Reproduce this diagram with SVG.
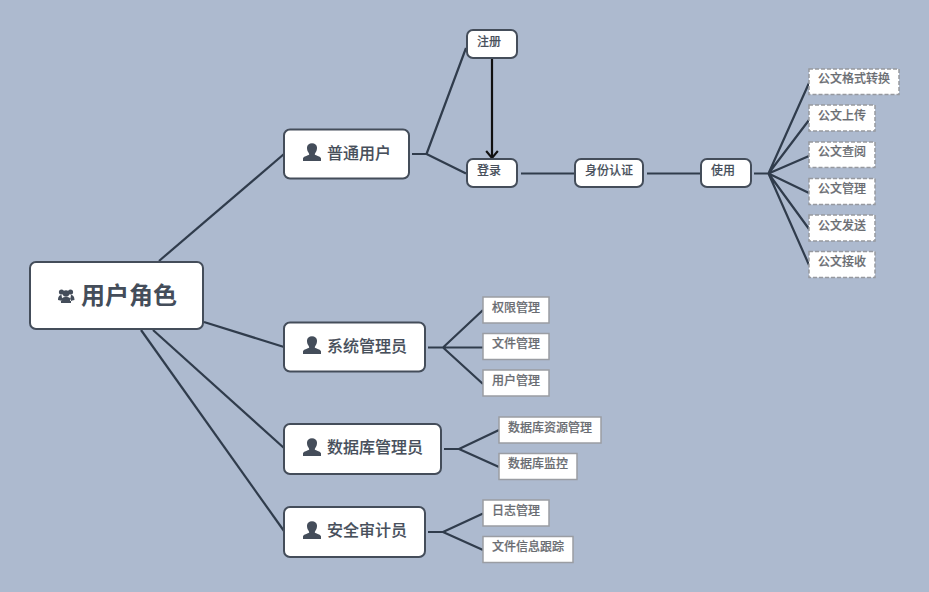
<svg xmlns="http://www.w3.org/2000/svg" width="929" height="592" viewBox="0 0 929 592">
<style>
text{font-family:"Noto Sans CJK SC","Microsoft YaHei",sans-serif;}
.c{fill:none;stroke:#303c4c;stroke-width:2.200;stroke-linecap:butt}
.b{fill:#fff;stroke:#444d5a;stroke-width:2}
.l{fill:#fff;stroke:#9a9da3;stroke-width:1.500}
.d{fill:#fff;stroke:#96999f;stroke-width:1.500;stroke-dasharray:4 2}
.t0{font-size:24px;font-weight:700;fill:#444d5a}
.t1{font-size:16px;font-weight:500;fill:#474f5b;stroke:#474f5b;stroke-width:.12}
.t2{font-size:12px;font-weight:500;fill:#474f5b;stroke:#474f5b;stroke-width:.15}
.t3{font-size:12px;font-weight:500;fill:#6a6d72;stroke:#6a6d72;stroke-width:.18}
.i{fill:#444d5a}
</style>
<defs>
<path id="u" d="M-9 9 L-9 6.500 C-9 4.300 -3.800 3.800 -2.800 2.500 C-2.700 1.800 -3.200 1.200 -3.900 0 C-4.800 -1.500 -5 -3 -5 -4.500 C-5 -7.200 -2.800 -8.800 0 -8.800 C2.800 -8.800 5 -7.200 5 -4.500 C5 -3 4.800 -1.500 3.900 0 C3.200 1.200 2.700 1.800 2.800 2.500 C3.800 3.800 9 4.300 9 6.500 L9 9 Z"/>
<marker id="ah" markerUnits="userSpaceOnUse" markerWidth="14" markerHeight="12" refX="6" refY="9" orient="0" viewBox="0 0 12 10"><path d="M1 3 L6 9 L11 3" fill="none" stroke="#111" stroke-width="1.800"/></marker>
</defs>
<rect width="929" height="592" fill="#adbacf"/>
<g id="connectors">
<path class="c" d="M159 261 L284 154"/>
<path class="c" d="M204 322 L284 347"/>
<path class="c" d="M153 330 L284 448"/>
<path class="c" d="M141 330 L284 531"/>
<path class="c" d="M412 154 L426.500 154 M426.500 154 L466 48 M426.500 154 L466 173.500"/>
<path class="c" d="M492 59 L492 158" style="stroke:#111" marker-end="url(#ah)"/>
<path class="c" d="M521 173.500 L574 173.500 M647 173.500 L700 173.500"/>
<path class="c" d="M754 173.500 L768.500 173.500 M768.500 173.500 L809 83 M768.500 173.500 L809 120 M768.500 173.500 L809 156 M768.500 173.500 L809 193 M768.500 173.500 L809 229 M768.500 173.500 L809 265"/>
<path class="c" d="M428 347.500 L443 347.500 M443 347.500 L483 310 M443 347.500 L483 347.500 M443 347.500 L483 384"/>
<path class="c" d="M444 449 L459 449 M459 449 L499 430 M459 449 L499 467"/>
<path class="c" d="M428 532 L443 532 M443 532 L483 513.500 M443 532 L483 550"/>
</g>
<g id="root"><rect class="b" x="30" y="262" width="173" height="67" rx="6"/>
<g class="i"><circle cx="61.500" cy="292" r="2.600"/><circle cx="70.500" cy="292" r="2.600"/><circle cx="66" cy="293.500" r="3.200"/><path d="M58 300 C58 296 60 295 61.500 295 L62.500 301 Z M74.500 300 C74.500 296 72.500 295 71 295 L70 301 Z M61 303 C60.500 298 63 297 66 297 C69.500 297 71.500 298 71 303 Z"/></g>
<text class="t0" x="81" y="304">用户角色</text></g>
<g id="n-putong"><rect class="b" x="284" y="129.500" width="125" height="49" rx="6"/><use class="i" href="#u" x="312" y="152"/><text class="t1" x="327" y="159">普通用户</text></g>
<g id="n-xitong"><rect class="b" x="284" y="322.500" width="141" height="49" rx="6"/><use class="i" href="#u" x="312" y="345"/><text class="t1" x="327" y="352">系统管理员</text></g>
<g id="n-shujuku"><rect class="b" x="284" y="424" width="157" height="50" rx="6"/><use class="i" href="#u" x="312" y="447"/><text class="t1" x="327" y="453">数据库管理员</text></g>
<g id="n-anquan"><rect class="b" x="284" y="507" width="141" height="50" rx="6"/><use class="i" href="#u" x="312" y="530"/><text class="t1" x="327" y="536">安全审计员</text></g>
<g id="n-zhuce"><rect class="b" x="467" y="30" width="50" height="28" rx="6"/><text class="t2" x="477" y="46">注册</text></g>
<g id="n-denglu"><rect class="b" x="467" y="159" width="50" height="28" rx="6"/><text class="t2" x="477" y="175">登录</text></g>
<g id="n-renzheng"><rect class="b" x="575" y="159" width="68" height="28" rx="6"/><text class="t2" x="585" y="175">身份认证</text></g>
<g id="n-shiyong"><rect class="b" x="701" y="159" width="50" height="28" rx="6"/><text class="t2" x="711" y="175">使用</text></g>
<g id="n-gs"><rect class="d" x="809" y="69" width="90" height="25.500"/><text class="t3" x="818" y="83">公文格式转换</text></g>
<g id="n-sc"><rect class="d" x="809" y="105" width="66" height="26"/><text class="t3" x="818" y="120">公文上传</text></g>
<g id="n-cy"><rect class="d" x="809" y="142" width="66" height="25.500"/><text class="t3" x="818" y="156">公文查阅</text></g>
<g id="n-gl"><rect class="d" x="809" y="178.500" width="66" height="26"/><text class="t3" x="818" y="193">公文管理</text></g>
<g id="n-fs"><rect class="d" x="809" y="215" width="66" height="26"/><text class="t3" x="818" y="230">公文发送</text></g>
<g id="n-js"><rect class="d" x="809" y="251.500" width="66" height="26"/><text class="t3" x="818" y="266">公文接收</text></g>
<g id="n-qx"><rect class="l" x="483" y="297" width="66" height="26"/><text class="t3" x="492" y="312">权限管理</text></g>
<g id="n-wj"><rect class="l" x="483" y="333.500" width="66" height="26"/><text class="t3" x="492" y="348">文件管理</text></g>
<g id="n-yh"><rect class="l" x="483" y="370" width="66" height="26"/><text class="t3" x="492" y="385">用户管理</text></g>
<g id="n-zy"><rect class="l" x="499" y="417" width="102" height="26"/><text class="t3" x="508" y="432">数据库资源管理</text></g>
<g id="n-jk"><rect class="l" x="499" y="453.500" width="78" height="26"/><text class="t3" x="508" y="468">数据库监控</text></g>
<g id="n-rz"><rect class="l" x="483" y="500" width="66" height="26"/><text class="t3" x="492" y="515">日志管理</text></g>
<g id="n-gz"><rect class="l" x="483" y="536.500" width="90" height="26"/><text class="t3" x="492" y="551">文件信息跟踪</text></g>
</svg>
